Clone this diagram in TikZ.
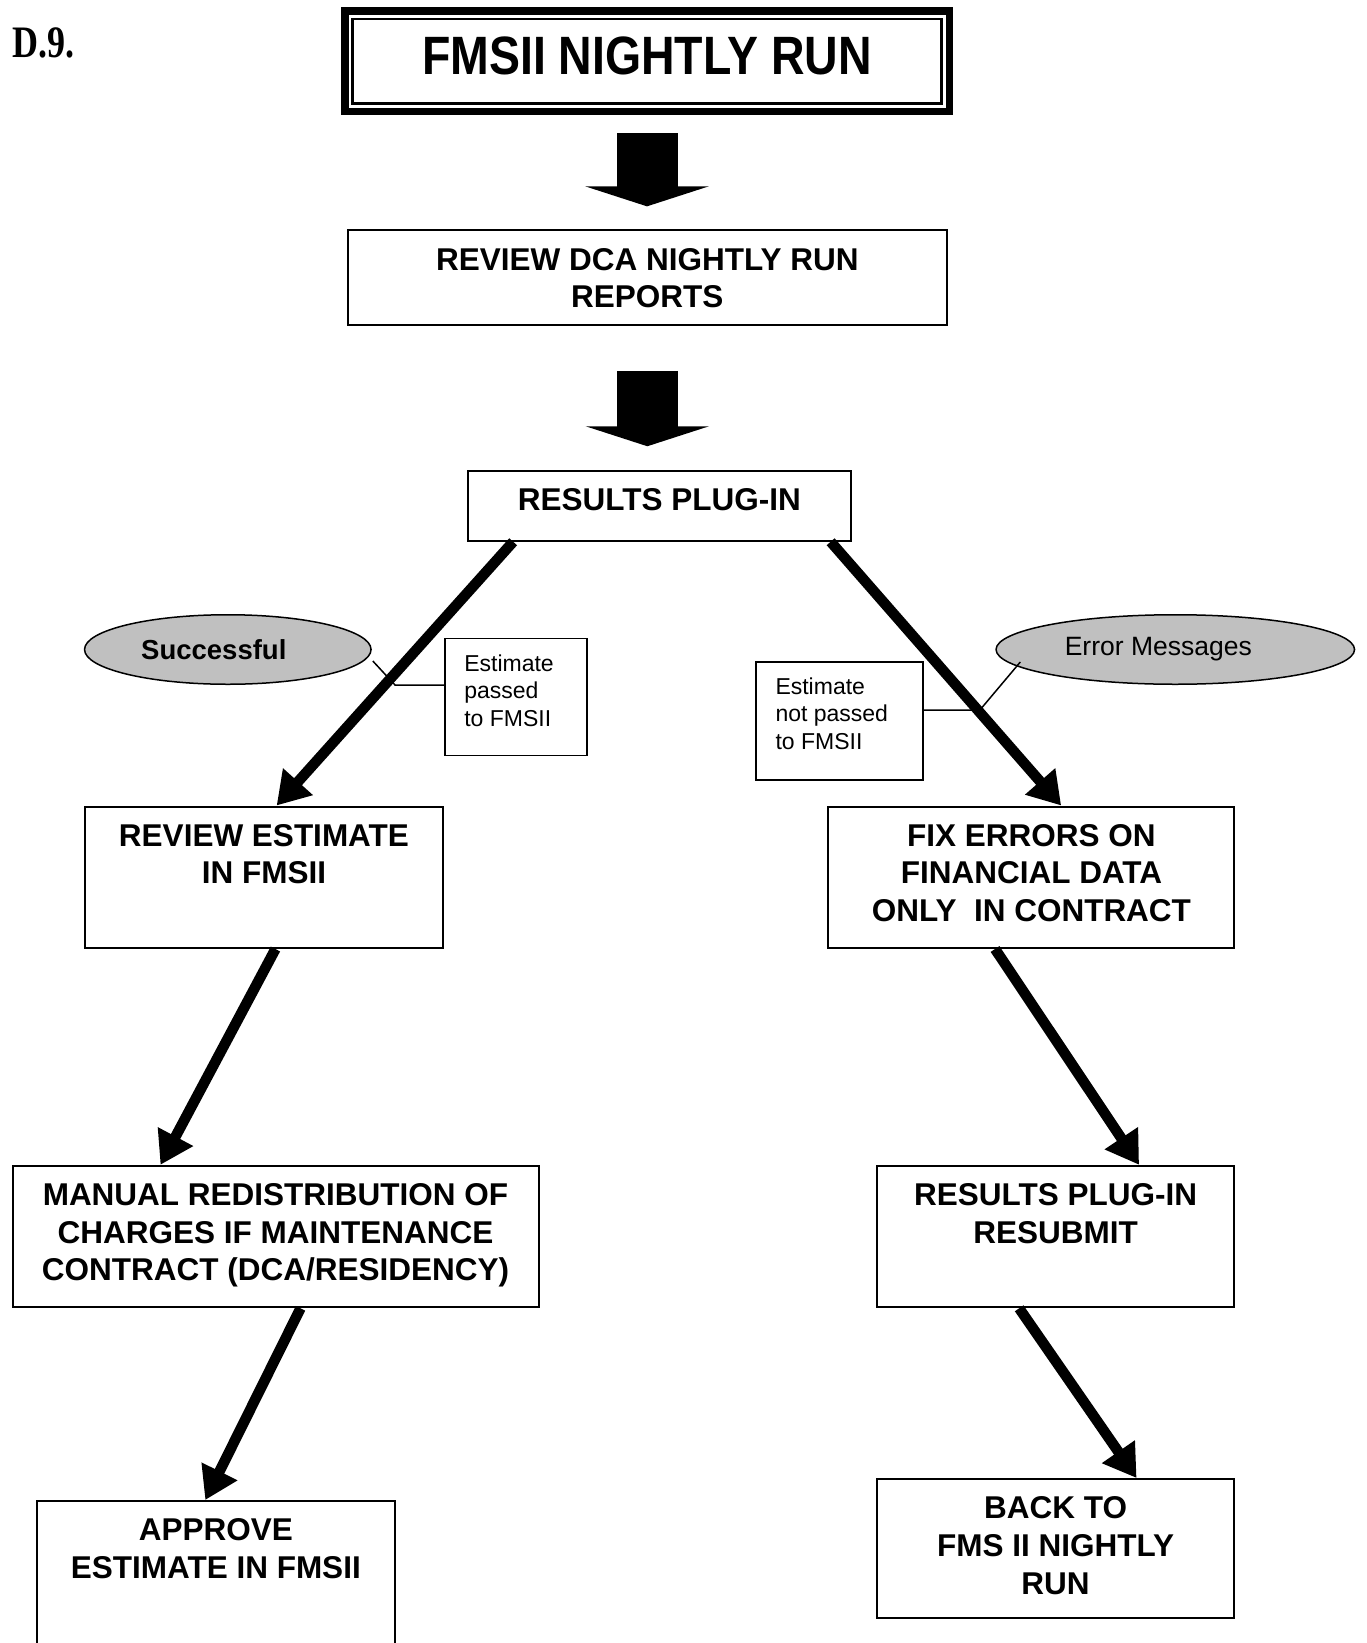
\documentclass[tikz,border=0pt]{standalone}
\usepackage{fontspec}
\setmainfont{Liberation Sans}
\newfontfamily\sectserif{Liberation Serif}
\usetikzlibrary{arrows.meta,shapes.geometric}
\definecolor{bubblegray}{HTML}{C0C0C0}
\tikzset{
  box/.style = {draw, line width = 2pt, inner sep = 0pt},
  boxtext/.style = {anchor = north, yshift = -18.5pt, inner sep = 0pt, align = center,
    font = \fontsize{31.5}{37.7}\selectfont\bfseries},
  note/.style = {draw, line width = 1.6pt, inner sep = 0pt},
  notetext/.style = {anchor = north west, xshift = 20pt, yshift = -17pt, inner sep = 0pt,
    align = left, font = \fontsize{23}{27.2}\selectfont},
  bubble/.style = {ellipse, draw, line width = 1.5pt, fill = bubblegray, inner sep = 0pt},
  fatarrow/.style = {line width = 61pt, -{Triangle[length = 20pt, width = 123pt]}},
  flow/.style = {line width = 10.5pt, -{Triangle[length = 32pt, width = 38pt]}},
}
\begin{document}
\begin{tikzpicture}[x = 1pt, y = -1pt]
  \useasboundingbox (0,0) rectangle (1366,1643);
  \node [anchor = base west, inner sep = 0pt,
    font = \sectserif\bfseries\fontsize{45}{48}\selectfont] (sect) at (12,58) {\scalebox{0.8}[1]{D.9.}};
  % title frame
  \node [draw, line width = 7.5pt, minimum width = 604.5pt, minimum height = 100.2pt,
    text depth = 11pt, font = \fontsize{54}{60}\selectfont\bfseries]
    (title) at (647,61.2) {\scalebox{0.86}[1]{FMSII NIGHTLY RUN}};
  \draw [line width = 2.5pt] ([shift = {(11.5,11.5)}]title.north west)
    rectangle ([shift = {(-11.5,-11.5)}]title.south east);
  % boxes
  \node [box, minimum width = 599pt, minimum height = 94.5pt,
    label = {[boxtext]north:REVIEW DCA NIGHTLY RUN\\REPORTS}] (dca) at (647.35,277.6) {};
  \node [box, minimum width = 382.5pt, minimum height = 69.5pt,
    label = {[boxtext]north:RESULTS PLUG-IN}] (plug) at (659.4,506) {};
  \node [box, minimum width = 358.5pt, minimum height = 141.5pt,
    label = {[boxtext]north:REVIEW ESTIMATE\\IN FMSII}] (revest) at (263.95,877.25) {};
  \node [box, minimum width = 406pt, minimum height = 141.5pt,
    label = {[boxtext]north:FIX ERRORS ON\\FINANCIAL DATA\\ONLY~ IN CONTRACT}] (fix) at (1031.45,877.25) {};
  \node [box, minimum width = 526pt, minimum height = 141.5pt,
    label = {[boxtext]north:MANUAL REDISTRIBUTION OF\\CHARGES IF MAINTENANCE\\CONTRACT (DCA/RESIDENCY)}]
    (manual) at (275.5,1236.55) {};
  \node [box, minimum width = 357.7pt, minimum height = 141.5pt,
    label = {[boxtext]north:RESULTS PLUG-IN\\RESUBMIT}] (resub) at (1055.55,1236.55) {};
  \node [box, minimum width = 358.4pt, minimum height = 160pt,
    label = {[boxtext]north:APPROVE\\ESTIMATE IN FMSII}] (approve) at (215.8,1581) {};
  \node [box, minimum width = 357.7pt, minimum height = 139.3pt,
    label = {[boxtext]north:BACK TO\\FMS II NIGHTLY\\RUN}] (back) at (1055.55,1548.65) {};
  % result bubbles and notes
  \node [bubble, minimum width = 286.5pt, minimum height = 69.5pt,
    font = \fontsize{27.5}{30}\selectfont\bfseries] (succ) at (227.8,649.5) {Successful\hspace*{28pt}};
  \node [bubble, minimum width = 358.5pt, minimum height = 69.5pt,
    font = \fontsize{26.5}{30}\selectfont] (err) at (1175.3,649.5) {Error Messages\hspace*{34pt}};
  \node [note, minimum width = 142pt, minimum height = 117pt,
    label = {[notetext]north west:Estimate\\passed\\to FMSII}] (pass) at (515.9,697.1) {};
  \node [note, minimum width = 167pt, minimum height = 118pt,
    label = {[notetext]north west:Estimate\\not passed\\to FMSII}] (notpass) at (839.6,720.7) {};
  \draw [line width = 1.5pt] ([shift = {(145,11.5)}]succ.center)
    -- ([shift = {(-49,-12)}]pass.west) -- ([shift = {(0,-12)}]pass.west);
  \draw [line width = 1.5pt] ([shift = {(-155,12.5)}]err.center)
    -- ([shift = {(56,-10.7)}]notpass.east) -- ([shift = {(0,-10.7)}]notpass.east);
  % arrows
  \draw [fatarrow, shorten < = 18pt, shorten > = 23pt] (title.south) -- (title.south |- dca.north);
  \draw [fatarrow, shorten < = 45pt, shorten > = 24pt] (dca.south) -- (dca.south |- plug.north);
  \foreach \from/\fx/\to/\tx in {plug.south west/46/revest.north/12.7,
      plug.south east/-21/fix.north/29.7, revest.south/11.5/manual.north/-115,
      fix.south/-36.4/resub.north/83.5, manual.south/25/approve.north/-10.5,
      resub.south/-36.4/back.north/81}
    \draw [flow] ([xshift = \fx pt]\from) -- ([xshift = \tx pt]\to);
\end{tikzpicture}
\end{document}
